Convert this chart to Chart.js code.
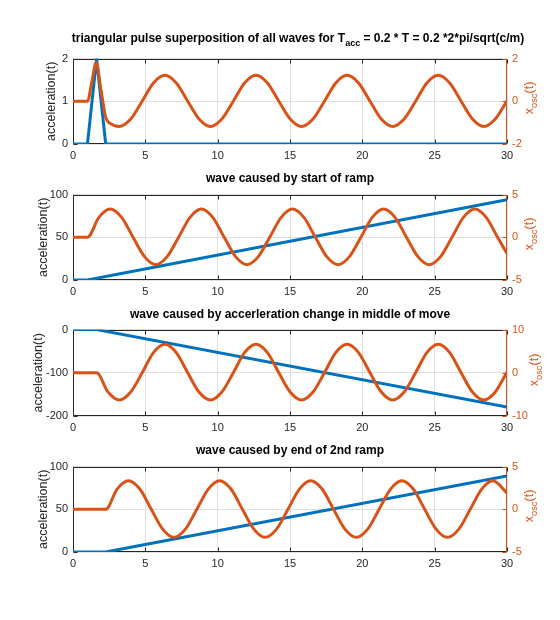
<!DOCTYPE html>
<html>
<head>
<meta charset="utf-8">
<script src="https://cdn.jsdelivr.net/npm/chart.js@4.4.1/dist/chart.umd.min.js"></script>
<style>
  body { margin: 0; background: #fff; }
  #fig { position: relative; width: 560px; height: 620px; background: #fff; font-family: "Liberation Sans", Arial, sans-serif; }
  #fig canvas { position: absolute; left: 0; }
  .ttl { position: absolute; transform: translateX(-50%); font-weight: bold; font-size: 12px; line-height: 14px; color: #000; white-space: nowrap; }
  .ttl sub, .rlab sub { font-size: 75%; vertical-align: -4px; line-height: 0; }
  .rlab { position: absolute; width: 100px; height: 16px; line-height: 16px; text-align: center; font-size: 12.5px; color: #D95319; transform: rotate(-90deg); white-space: nowrap; }
</style>
</head>
<body>
<div id="fig">
  <canvas id="p1"></canvas>
  <canvas id="p2"></canvas>
  <canvas id="p3"></canvas>
  <canvas id="p4"></canvas>
  <div class="ttl" style="left:298px; top:31px;">triangular pulse superposition of all waves for T<sub>acc</sub> = 0.2 * T = 0.2 *2*pi/sqrt(c/m)</div>
  <div class="ttl" style="left:290px; top:171px;">wave caused by start of ramp</div>
  <div class="ttl" style="left:290px; top:307px;">wave caused by accerleration change in middle of move</div>
  <div class="ttl" style="left:290px; top:443px;">wave caused by end of 2nd ramp</div>
  <div class="rlab" style="left:479px; top:90px;">x<sub>osc</sub>(t)</div>
  <div class="rlab" style="left:479px; top:226px;">x<sub>osc</sub>(t)</div>
  <div class="rlab" style="left:484px; top:362px;">x<sub>osc</sub>(t)</div>
  <div class="rlab" style="left:479px; top:498px;">x<sub>osc</sub>(t)</div>
</div>
<script>
// --- data ---
const xTicks = [0, 5, 10, 15, 20, 25, 30];

// subplot 1: triangular pulse + superposed wave
const accT1 = [0, 1.0, 1.63, 2.26, 30];
const acc1 = [0, 0, 2, 0, 0];
const oscT1 = [0, 1.0, 1.3, 1.6, 1.93, 2.26, 2.6, 3.2, 3.99, 4.78, 5.56, 6.35, 7.14, 7.93, 8.71, 9.5, 10.29, 11.08, 11.86, 12.65, 13.44, 14.23, 15.01, 15.8, 16.59, 17.38, 18.16, 18.95, 19.74, 20.53, 21.31, 22.1, 22.89, 23.68, 24.46, 25.25, 26.04, 26.83, 27.61, 28.4, 29.19, 30];
const osc1 = [0, 0, 0.9, 1.82, 0.55, -0.74, -1.05, -1.18, -0.83, 0, 0.86, 1.22, 0.86, 0, -0.83, -1.18, -0.83, 0, 0.86, 1.22, 0.86, 0, -0.83, -1.18, -0.83, 0, 0.86, 1.22, 0.86, 0, -0.83, -1.18, -0.83, 0, 0.86, 1.22, 0.86, 0, -0.83, -1.18, -0.83, 0.02];

// subplot 2: start of ramp
const accT2 = [0, 1.0, 30];
const acc2 = [0, 0, 94];
const oscT2 = [0, 1.0, 1.79, 2.57, 3.36, 4.15, 4.94, 5.72, 6.51, 7.3, 8.09, 8.87, 9.66, 10.45, 11.24, 12.02, 12.81, 13.6, 14.39, 15.17, 15.96, 16.75, 17.54, 18.32, 19.11, 19.9, 20.69, 21.47, 22.26, 23.05, 23.84, 24.62, 25.41, 26.2, 26.99, 27.77, 28.56, 29.35, 30];
const osc2 = [0, 0, 2.33, 3.3, 2.33, 0, -2.26, -3.2, -2.26, 0, 2.33, 3.3, 2.33, 0, -2.26, -3.2, -2.26, 0, 2.33, 3.3, 2.33, 0, -2.26, -3.2, -2.26, 0, 2.33, 3.3, 2.33, 0, -2.26, -3.2, -2.26, 0, 2.33, 3.3, 2.33, 0, -1.9];

// subplot 3: acceleration change in middle of move
const accT3 = [0, 1.63, 30];
const acc3 = [0, 0, -179];
const oscT3 = [0, 1.63, 2.42, 3.2, 3.99, 4.78, 5.56, 6.35, 7.14, 7.93, 8.71, 9.5, 10.29, 11.08, 11.86, 12.65, 13.44, 14.23, 15.01, 15.8, 16.59, 17.38, 18.16, 18.95, 19.74, 20.53, 21.31, 22.1, 22.89, 23.68, 24.46, 25.25, 26.04, 26.83, 27.61, 28.4, 29.19, 30];
const osc3 = [0, 0, -4.45, -6.3, -4.45, 0, 4.67, 6.6, 4.67, 0, -4.45, -6.3, -4.45, 0, 4.67, 6.6, 4.67, 0, -4.45, -6.3, -4.45, 0, 4.67, 6.6, 4.67, 0, -4.45, -6.3, -4.45, 0, 4.67, 6.6, 4.67, 0, -4.45, -6.3, -4.45, 0.2];

// subplot 4: end of 2nd ramp
const accT4 = [0, 2.26, 30];
const acc4 = [0, 0, 89];
const oscT4 = [0, 2.26, 3.05, 3.83, 4.62, 5.41, 6.2, 6.98, 7.77, 8.56, 9.35, 10.13, 10.92, 11.71, 12.5, 13.28, 14.07, 14.86, 15.65, 16.43, 17.22, 18.01, 18.8, 19.58, 20.37, 21.16, 21.95, 22.73, 23.52, 24.31, 25.1, 25.88, 26.67, 27.46, 28.25, 29.03, 30];
const osc4 = [0, 0, 2.37, 3.35, 2.37, 0, -2.32, -3.28, -2.32, 0, 2.37, 3.35, 2.37, 0, -2.32, -3.28, -2.32, 0, 2.37, 3.35, 2.37, 0, -2.32, -3.28, -2.32, 0, 2.37, 3.35, 2.37, 0, -2.32, -3.28, -2.32, 0, 2.37, 3.35, 1.9];

// axis limits [min, max, step]
const accAxis1 = [0, 2, 1], oscAxis1 = [-2, 2, 2];
const accAxis2 = [0, 100, 50], oscAxis2 = [-5, 5, 5];
const accAxis3 = [-200, 0, 100], oscAxis3 = [-10, 10, 10];
const accAxis4 = [0, 100, 50], oscAxis4 = [-5, 5, 5];

const BLUE = "#0072BD";
const ORANGE = "#D95319";
const DARK = "#262626";
const FONT = "'Liberation Sans', Arial, sans-serif";

// axes box with inward tick marks, drawn under the lines (matlab style)
const axesBox = {
  id: "axesBox",
  beforeDatasetsDraw(chart) {
    const { ctx, chartArea: a } = chart;
    const sx = chart.scales.x, yl = chart.scales.yL, yr = chart.scales.yR;
    const L = Math.round(a.left) + 0.5, R = Math.round(a.right) - 0.5;
    const T = Math.round(a.top) + 0.5, B = Math.round(a.bottom) - 0.5;
    ctx.save();
    ctx.lineWidth = 1;
    ctx.strokeStyle = DARK;
    ctx.beginPath();
    ctx.moveTo(R, T); ctx.lineTo(L, T); ctx.lineTo(L, B); ctx.lineTo(R, B);
    sx.ticks.forEach((t) => {
      const px = Math.round(sx.getPixelForValue(t.value)) + 0.5;
      ctx.moveTo(px, B); ctx.lineTo(px, B - 4);
      ctx.moveTo(px, T); ctx.lineTo(px, T + 4);
    });
    yl.ticks.forEach((t) => {
      const py = Math.round(yl.getPixelForValue(t.value)) + 0.5;
      ctx.moveTo(L, py); ctx.lineTo(L + 4, py);
    });
    ctx.stroke();
    ctx.strokeStyle = ORANGE;
    ctx.beginPath();
    ctx.moveTo(R, T); ctx.lineTo(R, B);
    yr.ticks.forEach((t) => {
      const py = Math.round(yr.getPixelForValue(t.value)) + 0.5;
      ctx.moveTo(R, py); ctx.lineTo(R - 4, py);
    });
    ctx.stroke();
    ctx.restore();
  },
};

function pts(xs, ys) {
  return xs.map((x, i) => ({ x: x, y: ys[i] }));
}

function makePlot(id, top, bottom, accT, acc, oscT, osc, accAxis, oscAxis, labelPad) {
  const canvas = document.getElementById(id);
  const padTop = 6;
  canvas.width = 560;
  canvas.height = bottom - top + padTop + 24;
  canvas.style.top = top - padTop + "px";

  const tickFont = { family: FONT, size: 11 };

  new Chart(canvas, {
    type: "line",
    data: {
      datasets: [
        {
          label: "x_osc(t)",
          data: pts(oscT, osc),
          yAxisID: "yR",
          borderColor: ORANGE,
          borderWidth: 3,
          pointRadius: 0,
          cubicInterpolationMode: "monotone",
          order: 0,
        },
        {
          label: "acceleration(t)",
          data: pts(accT, acc),
          yAxisID: "yL",
          borderColor: BLUE,
          borderWidth: 3,
          pointRadius: 0,
          tension: 0,
          order: 1,
        },
      ],
    },
    options: {
      responsive: false,
      animation: false,
      layout: { padding: { top: padTop, left: 0, right: 0, bottom: 0 } },
      plugins: { legend: { display: false }, tooltip: { enabled: false } },
      scales: {
        x: {
          type: "linear",
          min: xTicks[0],
          max: xTicks[xTicks.length - 1],
          afterFit: (s) => { s.height = 24; },
          afterBuildTicks: (s) => { s.ticks = xTicks.map((v) => ({ value: v })); },
          ticks: { padding: 5, color: DARK, font: tickFont, maxRotation: 0, autoSkip: false },
          grid: { color: "#dfdfdf", drawTicks: false },
          border: { display: false },
        },
        yL: {
          position: "left",
          min: accAxis[0],
          max: accAxis[1],
          afterFit: (s) => { s.width = 73; },
          ticks: { stepSize: accAxis[2], padding: 5, color: DARK, font: tickFont },
          grid: { color: "#dfdfdf", drawTicks: false },
          border: { display: false },
          title: {
            display: true,
            text: "acceleration(t)",
            color: DARK,
            font: { family: FONT, size: 12.5 },
            padding: { top: labelPad, bottom: 0 },
          },
        },
        yR: {
          position: "right",
          min: oscAxis[0],
          max: oscAxis[1],
          afterFit: (s) => { s.width = 53; },
          ticks: { stepSize: oscAxis[2], padding: 5, color: ORANGE, font: tickFont },
          grid: { display: false, drawTicks: false },
          border: { display: false },
        },
      },
    },
    plugins: [axesBox],
  });
}

makePlot("p1", 53, 144, accT1, acc1, oscT1, osc1, accAxis1, oscAxis1, 44);
makePlot("p2", 189, 280, accT2, acc2, oscT2, osc2, accAxis2, oscAxis2, 36);
makePlot("p3", 324, 416, accT3, acc3, oscT3, osc3, accAxis3, oscAxis3, 31);
makePlot("p4", 461, 552, accT4, acc4, oscT4, osc4, accAxis4, oscAxis4, 36);
</script>
</body>
</html>
